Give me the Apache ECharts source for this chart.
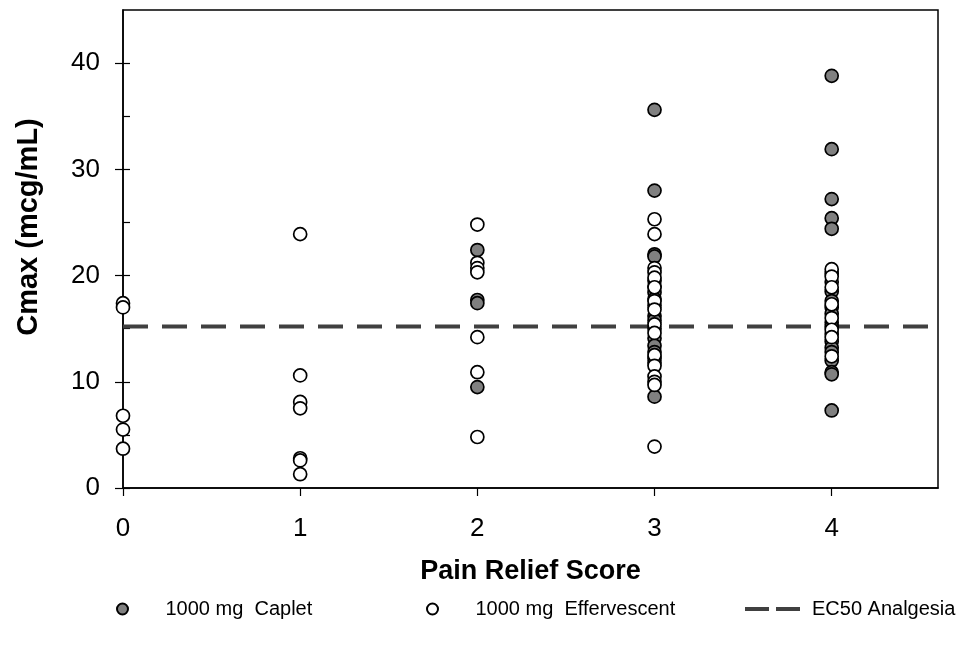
<!DOCTYPE html>
<html><head><meta charset="utf-8">
<script src="https://cdn.jsdelivr.net/npm/echarts@6/dist/echarts.min.js"></script>
<style>html,body{margin:0;padding:0;background:#fff}#c{width:959px;height:648px}</style>
</head><body><div id="c"></div>
<script>
// ---- data ----
const xTicks = [0, 1, 2, 3, 4];
const yTicks = [0, 10, 20, 30, 40];
const yMinorTicks = [0, 5, 10, 15, 20, 25, 30, 35, 40];
const xMax = 4.6;
const yMax = 45;
const ec50 = 15.2;

// 1000 mg Caplet (grey filled) by pain relief score
const caplet0 = [];
const caplet1 = [];
const caplet2 = [22.4, 17.7, 17.4, 9.5];
const caplet3 = [35.6, 28.0, 22.0, 21.8, 19.5, 19.0, 18.4, 17.8, 17.2, 16.2, 15.8, 15.0, 14.1, 13.4, 12.8, 12.2, 11.8, 8.6];
const caplet4 = [38.8, 31.9, 27.2, 25.4, 24.4, 20.2, 19.4, 18.5, 17.6, 17.0, 16.4, 15.6, 15.2, 14.5, 13.8, 13.2, 12.8, 12.0, 10.9, 10.7, 7.3];

// 1000 mg Effervescent (open) by pain relief score
const eff0 = [17.4, 17.0, 6.8, 5.5, 3.7];
const eff1 = [23.9, 10.6, 8.1, 7.5, 2.8, 2.6, 1.3];
const eff2 = [24.8, 21.2, 20.7, 20.3, 14.2, 10.9, 4.8];
const eff3 = [25.3, 23.9, 20.7, 20.3, 19.8, 18.9, 17.6, 16.8, 15.4, 14.6, 12.5, 11.5, 10.5, 10.0, 9.7, 3.9];
const eff4 = [20.6, 19.9, 18.9, 17.3, 16.0, 14.9, 14.2, 12.4];

const capletGroups = [caplet0, caplet1, caplet2, caplet3, caplet4];
const effGroups = [eff0, eff1, eff2, eff3, eff4];

function toPoints(groups) {
  const pts = [];
  groups.forEach((vals, score) => vals.forEach(v => pts.push([score, v])));
  return pts;
}

const FONT = "'Liberation Sans', Arial, sans-serif";
const chart = echarts.init(document.getElementById('c'), null, {renderer: 'canvas'});

const legendText = {fontFamily: FONT, fontSize: 20, color: '#000'};

chart.setOption({
  animation: false,
  backgroundColor: '#fff',
  grid: {left: 123, right: 21, top: 10, bottom: 160, show: true, borderColor: '#000', borderWidth: 1.5, backgroundColor: 'transparent'},
  xAxis: {
    type: 'value', min: 0, max: xMax, interval: 1,
    name: 'Pain Relief Score', nameLocation: 'middle', nameGap: 70,
    nameTextStyle: {fontFamily: FONT, fontSize: 27, fontWeight: 'bold', color: '#000'},
    axisLine: {show: true, onZero: false, lineStyle: {color: '#000', width: 1.5}},
    axisTick: {show: true, inside: false, length: 8, customValues: xTicks, lineStyle: {color: '#000', width: 1.2}},
    axisLabel: {show: true, margin: 28, customValues: xTicks, fontFamily: FONT, fontSize: 26, color: '#000'},
    splitLine: {show: false}
  },
  yAxis: [{
    type: 'value', min: 0, max: yMax, interval: 10, position: 'left',
    name: 'Cmax (mcg/mL)', nameLocation: 'middle', nameGap: 80, nameRotate: 90,
    nameTextStyle: {fontFamily: FONT, fontSize: 29, fontWeight: 'bold', color: '#000', padding: [0, 0, 0, 44]},
    axisLine: {show: true, onZero: false, lineStyle: {color: '#000', width: 1.5}},
    axisTick: {show: true, inside: false, length: 8, customValues: yTicks, lineStyle: {color: '#000', width: 1.2}},
    axisLabel: {show: true, margin: 23, customValues: yTicks, fontFamily: FONT, fontSize: 26, color: '#000'},
    splitLine: {show: false}
  }, {
    type: 'value', min: 0, max: yMax, interval: 5, position: 'left', offset: 0,
    axisLine: {show: false},
    axisTick: {show: true, inside: true, length: 7, customValues: yMinorTicks, lineStyle: {color: '#000', width: 1.2}},
    axisLabel: {show: false},
    splitLine: {show: false}
  }],
  legend: [{
    data: [{name: '1000 mg  Caplet', icon: 'circle'}],
    left: 111, top: 594, itemWidth: 76, itemHeight: 11, selectedMode: false,
    textStyle: legendText
  }, {
    data: [{name: '1000 mg  Effervescent', icon: 'circle'}],
    left: 421, top: 594, itemWidth: 76, itemHeight: 11, selectedMode: false,
    textStyle: legendText
  }, {
    data: [{name: 'EC50 Analgesia', icon: 'path://M0,0h24v4h-24z M31,0h24v4h-24z', itemStyle: {color: '#404040', borderWidth: 0}}],
    left: 740, top: 594, itemWidth: 55, itemHeight: 4, itemGap: 0, selectedMode: false,
    textStyle: Object.assign({padding: [0, 0, 0, 7]}, legendText)
  }],
  series: [{
    name: 'EC50 Analgesia', type: 'line', yAxisIndex: 0,
    data: [[0, ec50], [xMax, ec50]],
    symbol: 'none', silent: true, z: 1,
    lineStyle: {color: '#404040', width: 4, type: [25, 14]},
    itemStyle: {color: '#404040'}
  }, {
    name: '1000 mg  Caplet', type: 'scatter', yAxisIndex: 0,
    data: toPoints(capletGroups),
    symbol: 'circle', symbolSize: 13, z: 3, silent: true,
    itemStyle: {color: '#808080', borderColor: '#000', borderWidth: 1.7, opacity: 1}
  }, {
    name: '1000 mg  Effervescent', type: 'scatter', yAxisIndex: 0,
    data: toPoints(effGroups),
    symbol: 'circle', symbolSize: 13, z: 4, silent: true,
    itemStyle: {color: '#fff', borderColor: '#000', borderWidth: 1.7, opacity: 1}
  }]
});
</script>
</body></html>
